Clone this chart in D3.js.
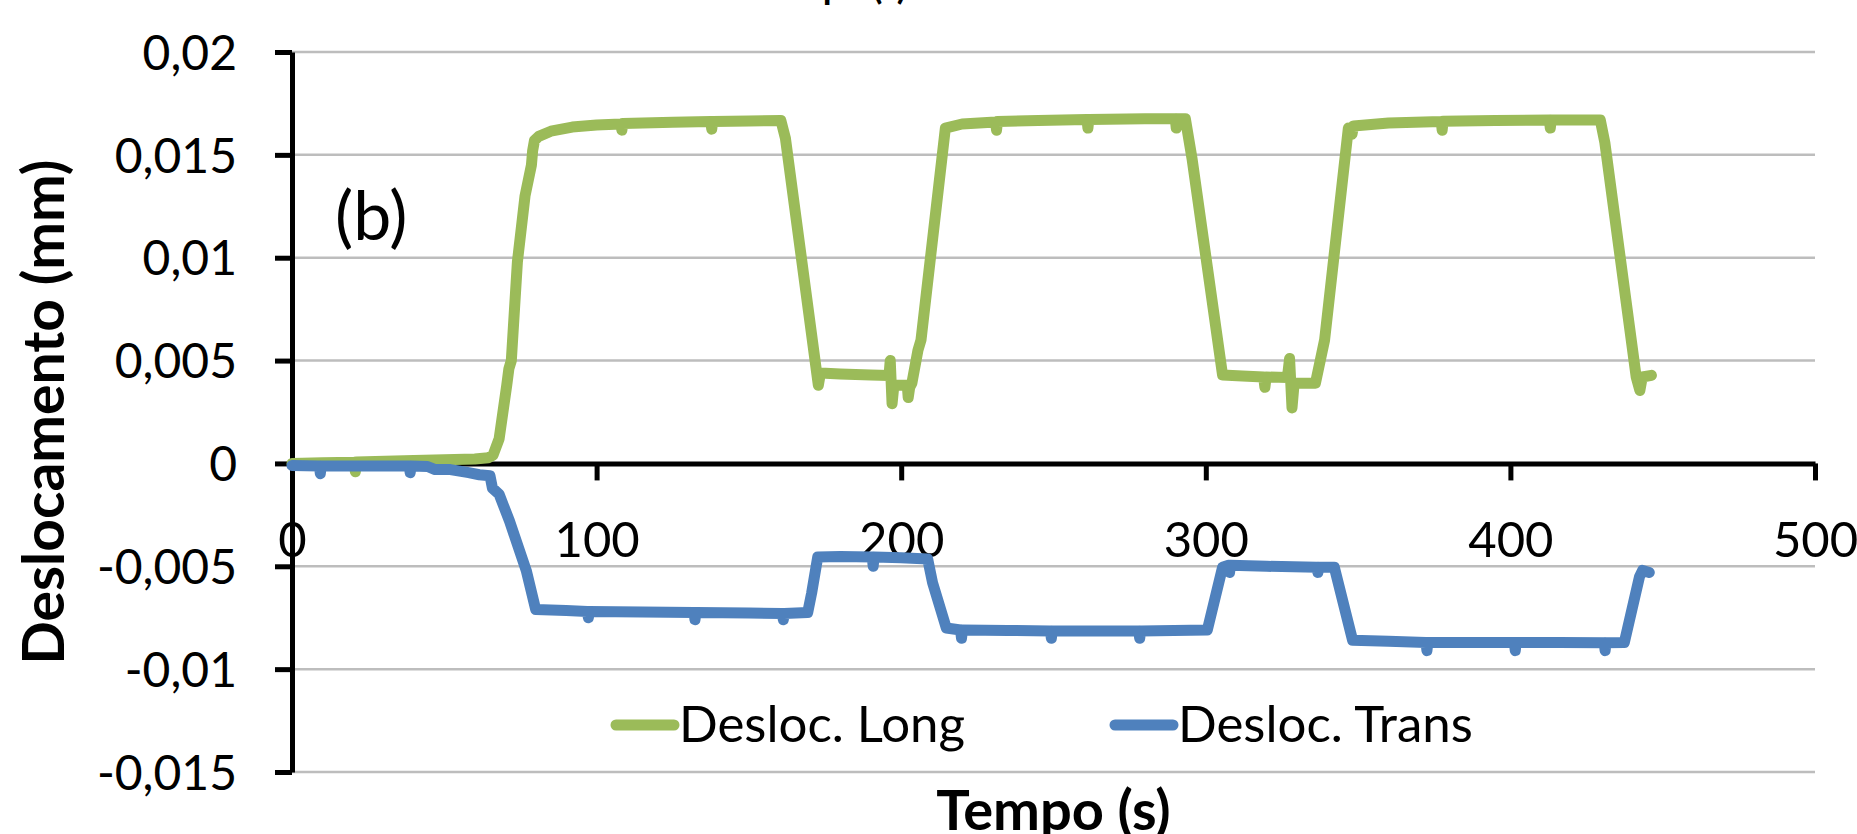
<!DOCTYPE html>
<html>
<head>
<meta charset="utf-8">
<script src="https://cdn.jsdelivr.net/npm/d3@7"></script>
<style>
  body { margin: 0; background: #fff; }
  svg text { font-family: Lato, "Open Sans", sans-serif; fill: #000; }
  .grid line { stroke: #bdbdbd; stroke-width: 2.5; }
  .axis path, .axis line { stroke: #000; stroke-width: 5; }
</style>
</head>
<body>
<div id="chart"></div>
<script>
/* Series: time (s) and displacement (mm). */
const longTime = [0, 10, 20.5, 20.8, 21.1, 40, 60, 64.5, 66, 68, 70.5, 71.2, 72, 74, 76.5, 78.6, 79, 79.6, 81, 85, 92, 100,
  108, 108.3, 108.6, 125, 137.5, 137.8, 138.1, 150, 160.5, 162, 172.8, 173.5, 180, 190, 196, 196.4, 197, 197.6, 199, 202,
  202.3, 202.8, 203.5, 205.5, 206.5, 214.5, 220, 231, 231.3, 231.6, 245, 261, 261.3, 261.6, 280, 290, 290.3, 290.6, 293.3,
  295.5, 305.5, 312, 319, 319.4, 319.8, 326.8, 327.5, 328.3, 329, 336, 338, 339, 346.8, 348, 348.5, 360, 377.3, 377.6,
  377.9, 395, 412.8, 413.1, 413.4, 429.5, 431, 441.3, 442.5, 443.3, 446.3];
const longDispl = [0, 0.00003, 0.00006, -0.0004, 0.00007, 0.00014, 0.00022, 0.00028, 0.0004, 0.0012, 0.0038, 0.0046, 0.005,
  0.0098, 0.013, 0.0145, 0.0152, 0.0157, 0.0159, 0.01615, 0.01635, 0.01645, 0.0165, 0.0162, 0.01652, 0.01658, 0.01662,
  0.01625, 0.01662, 0.01665, 0.01667, 0.0158, 0.0038, 0.0044, 0.00435, 0.0043, 0.00428, 0.005, 0.0029, 0.0038, 0.0038,
  0.0038, 0.0032, 0.0037, 0.0039, 0.0055, 0.006, 0.0163, 0.0165, 0.0166, 0.0162, 0.01662, 0.01667, 0.01672, 0.0163,
  0.01672, 0.01675, 0.01675, 0.0163, 0.01675, 0.01675, 0.0148, 0.0043, 0.00425, 0.0042, 0.0037, 0.0042, 0.00418, 0.0051,
  0.0027, 0.0039, 0.0039, 0.0053, 0.006, 0.0163, 0.016, 0.0164, 0.01655, 0.01662, 0.0162, 0.01663, 0.01667, 0.0167,
  0.0163, 0.0167, 0.0167, 0.0156, 0.0042, 0.00355, 0.0042, 0.00428];

const transTime = [0, 9, 9.3, 9.6, 25, 38.5, 38.8, 39.1, 44.5, 47, 52, 58, 61.5, 65, 65.8, 68, 71.4, 76.9, 80, 90, 97, 97.3,
  97.6, 115, 132, 132.3, 132.6, 150, 161, 161.3, 161.6, 169.3, 170.6, 172.6, 180, 190.5, 190.8, 191.1, 200, 208.7, 210.3,
  214.8, 219.5, 219.8, 220.1, 235, 249, 249.3, 249.6, 265, 278, 278.3, 278.6, 300.5, 305.5, 307.5, 307.8, 308.1, 320,
  336.5, 336.8, 337.1, 342.2, 348.2, 360, 372.3, 372.6, 372.9, 387, 401.3, 401.6, 401.9, 416, 430.8, 431.1, 431.4, 437.4,
  442.4, 443.4, 445.6];
const transDispl = [-0.0001, -0.00012, -0.0005, -0.00012, -0.00012, -0.00012, -0.00045, -0.00012, -0.00015, -0.0003,
  -0.0003, -0.00045, -0.00055, -0.0006, -0.0012, -0.0015, -0.0028, -0.0052, -0.0071, -0.00715, -0.0072, -0.0075, -0.0072,
  -0.00722, -0.00725, -0.0076, -0.00725, -0.00727, -0.0073, -0.0076, -0.0073, -0.00725, -0.0063, -0.00455, -0.00452,
  -0.00455, -0.005, -0.00455, -0.00458, -0.00465, -0.0058, -0.008, -0.0081, -0.0085, -0.0081, -0.00812, -0.00815, -0.0085,
  -0.00815, -0.00815, -0.00815, -0.0085, -0.00815, -0.0081, -0.00505, -0.00495, -0.0053, -0.00495, -0.005, -0.00505,
  -0.0053, -0.00505, -0.00505, -0.0086, -0.00865, -0.0087, -0.0091, -0.0087, -0.0087, -0.0087, -0.0091, -0.0087, -0.0087,
  -0.00872, -0.0091, -0.00872, -0.0087, -0.0055, -0.0052, -0.0053];

/* Axis ticks and labels. */
const xTicks = [0, 100, 200, 300, 400, 500];
const yTicks = [0.02, 0.015, 0.01, 0.005, 0, -0.005, -0.01, -0.015];
const yTickLabels = ["0,02", "0,015", "0,01", "0,005", "0", "-0,005", "-0,01", "-0,015"];
const seriesNames = ["Desloc. Long", "Desloc. Trans"];
const seriesColors = ["#9bbb59", "#4f81bd"];

/* Chart parameters. */
const chartParams = {
  width: 1857,
  height: 834,
  plotLeft: 292,
  plotRight: 1815,
  plotTop: 52,
  plotBottom: 772,
  lineWidth: 11,
};

const x = d3.scaleLinear().domain([0, 500]).range([chartParams.plotLeft, chartParams.plotRight]);
const y = d3.scaleLinear().domain([-0.015, 0.02]).range([chartParams.plotBottom, chartParams.plotTop]);

const svg = d3.select("#chart")
  .append("svg")
  .attr("width", chartParams.width)
  .attr("height", chartParams.height);

buildGrid();
buildAxes();
drawSeries(longTime, longDispl, seriesColors[0]);
drawSeries(transTime, transDispl, seriesColors[1]);
buildLegend();
buildLabels();

// ---------------- Helper functions ---------------- //

/* Horizontal gridlines at every y tick. */
function buildGrid() {
  svg.append("g")
    .attr("class", "grid")
    .selectAll("line")
    .data(yTicks)
    .enter()
    .append("line")
    .attr("x1", chartParams.plotLeft)
    .attr("x2", chartParams.plotRight)
    .attr("y1", d => y(d))
    .attr("y2", d => y(d));
}

/* Y axis on the left, x axis crossing at zero. */
function buildAxes() {
  const yAxis = d3.axisLeft(y)
    .tickValues(yTicks)
    .tickFormat((d, i) => yTickLabels[i])
    .tickSize(17)
    .tickSizeOuter(0)
    .tickPadding(38);

  const yg = svg.append("g")
    .attr("class", "axis")
    .attr("transform", "translate(" + chartParams.plotLeft + ",0)")
    .call(yAxis);
  yg.selectAll("text")
    .style("font-size", "48px")
    .attr("dy", "0.36em");

  const xAxis = d3.axisBottom(x)
    .tickValues(xTicks)
    .tickFormat(d3.format("d"))
    .tickSize(17)
    .tickSizeOuter(0);

  const xg = svg.append("g")
    .attr("class", "axis")
    .attr("transform", "translate(0," + y(0) + ")")
    .call(xAxis);
  xg.selectAll("text")
    .style("font-size", "49px")
    .attr("y", 94)
    .attr("dy", null);
}

/* One thick line per series. */
function drawSeries(time, displ, color) {
  const line = d3.line()
    .x(d => x(d[0]))
    .y(d => y(d[1]));

  svg.append("path")
    .datum(d3.zip(time, displ))
    .attr("d", line)
    .attr("fill", "none")
    .attr("stroke", color)
    .attr("stroke-width", chartParams.lineWidth)
    .attr("stroke-linejoin", "round")
    .attr("stroke-linecap", "round");
}

/* Legend inside the lower part of the plot. */
function buildLegend() {
  const legendX = [616, 1115];
  const legend = svg.append("g").attr("id", "legend");
  const items = legend.selectAll("g")
    .data(seriesNames)
    .enter()
    .append("g")
    .attr("transform", (d, i) => "translate(" + legendX[i] + ",725)");

  items.append("line")
    .attr("x1", 0)
    .attr("x2", 58)
    .attr("stroke", (d, i) => seriesColors[i])
    .attr("stroke-width", chartParams.lineWidth)
    .attr("stroke-linecap", "round");

  items.append("text")
    .attr("x", 63)
    .attr("y", 17)
    .style("font-size", "51px")
    .text(d => d);
}

/* Axis titles, panel label and the cropped title of the panel above. */
function buildLabels() {
  const midX = (chartParams.plotLeft + chartParams.plotRight) / 2;
  const midY = (chartParams.plotTop + chartParams.plotBottom) / 2;

  svg.append("text")
    .attr("x", midX)
    .attr("y", 830)
    .attr("text-anchor", "middle")
    .style("font-size", "56px")
    .style("font-weight", "bold")
    .text("Tempo (s)");

  svg.append("text")
    .attr("x", 756)
    .attr("y", -1)
    .style("font-size", "36px")
    .style("font-weight", "bold")
    .text("Tempo (s)");

  svg.append("text")
    .attr("transform", "translate(64," + midY + ") rotate(-90)")
    .attr("text-anchor", "middle")
    .style("font-size", "57px")
    .style("font-weight", "bold")
    .text("Deslocamento (mm)");

  svg.append("text")
    .attr("x", 335)
    .attr("y", 240)
    .style("font-size", "68px")
    .text("(b)");
}
</script>
</body>
</html>
